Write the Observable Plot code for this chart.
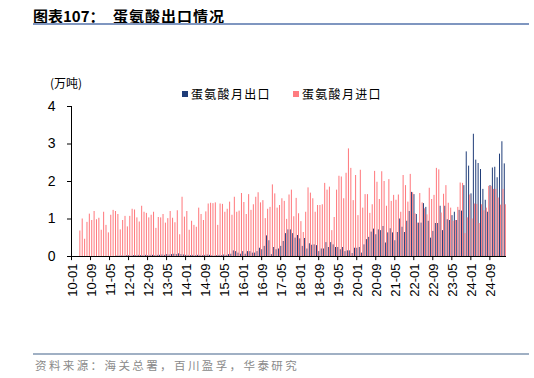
<!DOCTYPE html>
<html>
<head>
<meta charset="utf-8">
<script src="https://cdn.jsdelivr.net/npm/d3@7"></script>
<script src="https://cdn.jsdelivr.net/npm/@observablehq/plot@0.6"></script>
<style>
  html, body { margin: 0; padding: 0; background: #fff; }
  #page { position: relative; width: 534px; height: 378px; overflow: hidden; background: #fff; }
  #chart { position: absolute; left: 0; top: 0; }
  .abs { position: absolute; white-space: nowrap; }
  .cjk { font-family: "Noto Sans CJK SC", "Noto Sans", sans-serif; }
</style>
</head>
<body>
<div id="page">
  <div id="chart"></div>
  <div class="abs cjk" style="left:33px; top:5px; font-size:15px; font-weight:bold; color:#000;">图表107：</div>
  <div class="abs cjk" style="left:113px; top:5px; font-size:15px; font-weight:bold; color:#000; letter-spacing:1px;">蛋氨酸出口情况</div>
  <div class="abs" style="left:33px; top:23px; width:496px; height:2px; background:#7f96c0;"></div>
  <div class="abs cjk" style="left:50px; top:74px; font-size:12px; color:#000;">(万吨)</div>
  <div class="abs" style="left:182px; top:91px; width:6px; height:6px; background:#1f3c78;"></div>
  <div class="abs cjk" style="left:191px; top:85px; font-size:12px; letter-spacing:1.3px; color:#000;">蛋氨酸月出口</div>
  <div class="abs" style="left:293px; top:91px; width:6px; height:6px; background:#ff7c80;"></div>
  <div class="abs cjk" style="left:302px; top:85px; font-size:12px; letter-spacing:1.3px; color:#000;">蛋氨酸月进口</div>
  <div class="abs" style="left:33px; top:353px; width:496px; height:2px; background:#a0b0c4;"></div>
  <div class="abs cjk" style="left:35px; top:357px; font-size:11.5px; letter-spacing:2.4px; color:#8a8a8a;">资料来源：海关总署，百川盈孚，华泰研究</div>
</div>
<script>
// Month categories 2010-01 .. 2025-03
const startYear = 2010;
const monthCount = 183;
const months = [];
for (let i = 0; i < monthCount; i++) {
  const y = startYear + Math.floor(i / 12);
  const m = (i % 12) + 1;
  months.push(String(y % 100).padStart(2, "0") + "-" + String(m).padStart(2, "0"));
}
const xTickLabels = ["10-01","10-09","11-05","12-01","12-09","13-05","14-01","14-09","15-05","16-01","16-09","17-05","18-01","18-09","19-05","20-01","20-09","21-05","22-01","22-09","23-05","24-01","24-09"];
const yTicks = [0, 1, 2, 3, 4];
const seriesNames = ["蛋氨酸月出口", "蛋氨酸月进口"];

// 蛋氨酸月出口 (万吨)
const exportsValues = [
  0,0,0,0,0,0,0,0,0,0,
  0,0,0,0,0,0,0,0,0,0.01,
  0.01,0.01,0.01,0.02,0.02,0.01,0.02,0.02,0.03,0.02,
  0.02,0.03,0.02,0.03,0.03,0.02,0.03,0.03,0.04,0.03,
  0.05,0.04,0.05,0.06,0.05,0.07,0.05,0.04,0.03,0.03,
  0.02,0.03,0.02,0.03,0.03,0.02,0.03,0.04,0.03,
  0.02,0.01,0.02,0.03,0.02,0.04,0.03,0.05,0.06,0.15,
  0.13,0.09,0.06,0.13,0.06,0.13,0.13,0.09,0.09,0.13,
  0.22,0.18,0.27,0.55,0.42,0.05,0.24,0.18,0.2,0.27,
  0.4,0.61,0.71,0.71,0.61,0.49,0.56,0.47,0.27,0.48,
  0.2,0.34,0.3,0.31,0.29,0.13,0.2,0.2,0.37,0.24,
  0.37,0.31,0.24,0.24,0.18,0.24,0.13,0.15,0.15,0.08,
  0.22,0.22,0.24,0.09,0.31,0.45,0.51,0.65,0.73,0.58,
  0.71,0.69,0.8,0.36,0.63,0.74,0.63,0.42,0.64,1.0,
  0.78,0.64,0.94,1.2,1.71,1.65,1.12,0.89,0.89,1.41,
  1.31,0.94,0.49,0.67,0.88,0.88,1.34,0.69,1.34,0.98,
  0.96,1.09,1.18,0.96,1.23,1.21,1.89,2.79,2.41,1.67,
  3.26,2.57,2.48,2.32,1.79,1.5,1.18,1.89,2.36,2.38,
  2.1,2.73,3.06,2.47
];

// 蛋氨酸月进口 (万吨)
const importsValues = [
  null,null,null,
  0.68,1.0,0.46,0.91,1.13,0.96,1.2,0.98,1.02,0.70,
  1.18,0.83,0.63,1.1,1.23,1.2,1.12,0.71,0.96,1.07,
  0.79,1.07,1.26,1.24,1.03,0.92,1.34,1.18,1.15,1.03,
  1.1,1.18,0.75,1.04,1.03,1.12,0.89,1.01,1.2,1.02,
  0.9,1.22,0.58,1.58,1.05,1.2,0.70,0.94,0.83,0.78,
  1.29,1.12,0.96,1.19,1.4,1.42,
  1.41,1.43,0.83,1.4,1.39,1.18,1.26,1.45,1.1,1.58,
  1.18,1.21,1.68,1.44,1.12,1.65,1.23,1.38,1.58,1.7,
  1.43,1.49,1.01,1.26,1.31,1.91,1.67,1.29,1.36,1.54,
  1.47,0.99,1.64,1.77,1.06,1.55,1.14,0.93,0.64,1.18,
  1.83,1.69,1.54,1.18,1.36,1.36,1.38,1.95,1.77,1.85,
  0.69,1.04,1.77,2.14,2.12,1.54,2.22,2.87,2.35,1.49,
  2.16,1.09,2.3,1.29,1.65,1.65,1.15,1.38,2.27,1.98,
  1.52,2.26,2.0,1.34,2.05,1.47,1.63,1.5,1.64,1.18,
  2.16,1.89,1.45,2.19,1.7,1.14,0.89,1.68,1.43,1.27,
  1.11,1.82,1.52,1.63,2.35,2.31,1.16,1.66,1.89,1.42,
  1.29,0.94,0.96,1.31,1.96,1.95,0.61,1.03,1.64,1.0,
  1.4,1.39,0.88,1.38,1.22,1.29,1.87,1.87,1.79,1.79,
  1.56,1.37,1.79,1.38
];

const colors = ["#1f3c78", "#ff7c80"];

const table = months.map((m, i) => ({ m, exp: exportsValues[i], imp: importsValues[i] }));

const W = 534, H = 378, mL = 71, mR = 28, mT = 106, mB = 122;
const band = (W - mL - mR) / months.length;

const chart = Plot.plot({
  width: W,
  height: H,
  marginLeft: mL,
  marginRight: mR,
  marginTop: mT,
  marginBottom: mB,
  style: { fontFamily: "'Liberation Sans', Arial, sans-serif", fontSize: "13px", color: "#000", background: "transparent" },
  x: { type: "band", domain: months, padding: 0 },
  y: { domain: [0, 4] },
  marks: [
    Plot.barY(table, { x: "m", y: "exp", fill: colors[0], insetLeft: 0.15, insetRight: band / 2 + 0.05 }),
    Plot.barY(table.filter(d => d.imp != null), { x: "m", y: "imp", fill: colors[1], insetLeft: band / 2, insetRight: 0.15 }),
    Plot.ruleY([0], { stroke: "#000" }),
    Plot.ruleX([months[0]], { x: d => d, y1: 0, y2: 4, dx: -band / 2, stroke: "#000", clip: false }),
    Plot.axisY({ ticks: yTicks, tickFormat: d => String(d), tickSize: 4, tickPadding: 12, fontSize: 14, label: null, stroke: "#000" }),
    Plot.ruleX(xTickLabels, { x: d => d, y1: 0, y2: -0.11, dx: -band / 2, stroke: "#000", clip: false }),
    Plot.axisX({ ticks: xTickLabels, tickSize: 0, tickPadding: 7, tickRotate: -90, fontSize: 13, label: null })
  ]
});
document.getElementById("chart").appendChild(chart);
</script>
</body>
</html>
